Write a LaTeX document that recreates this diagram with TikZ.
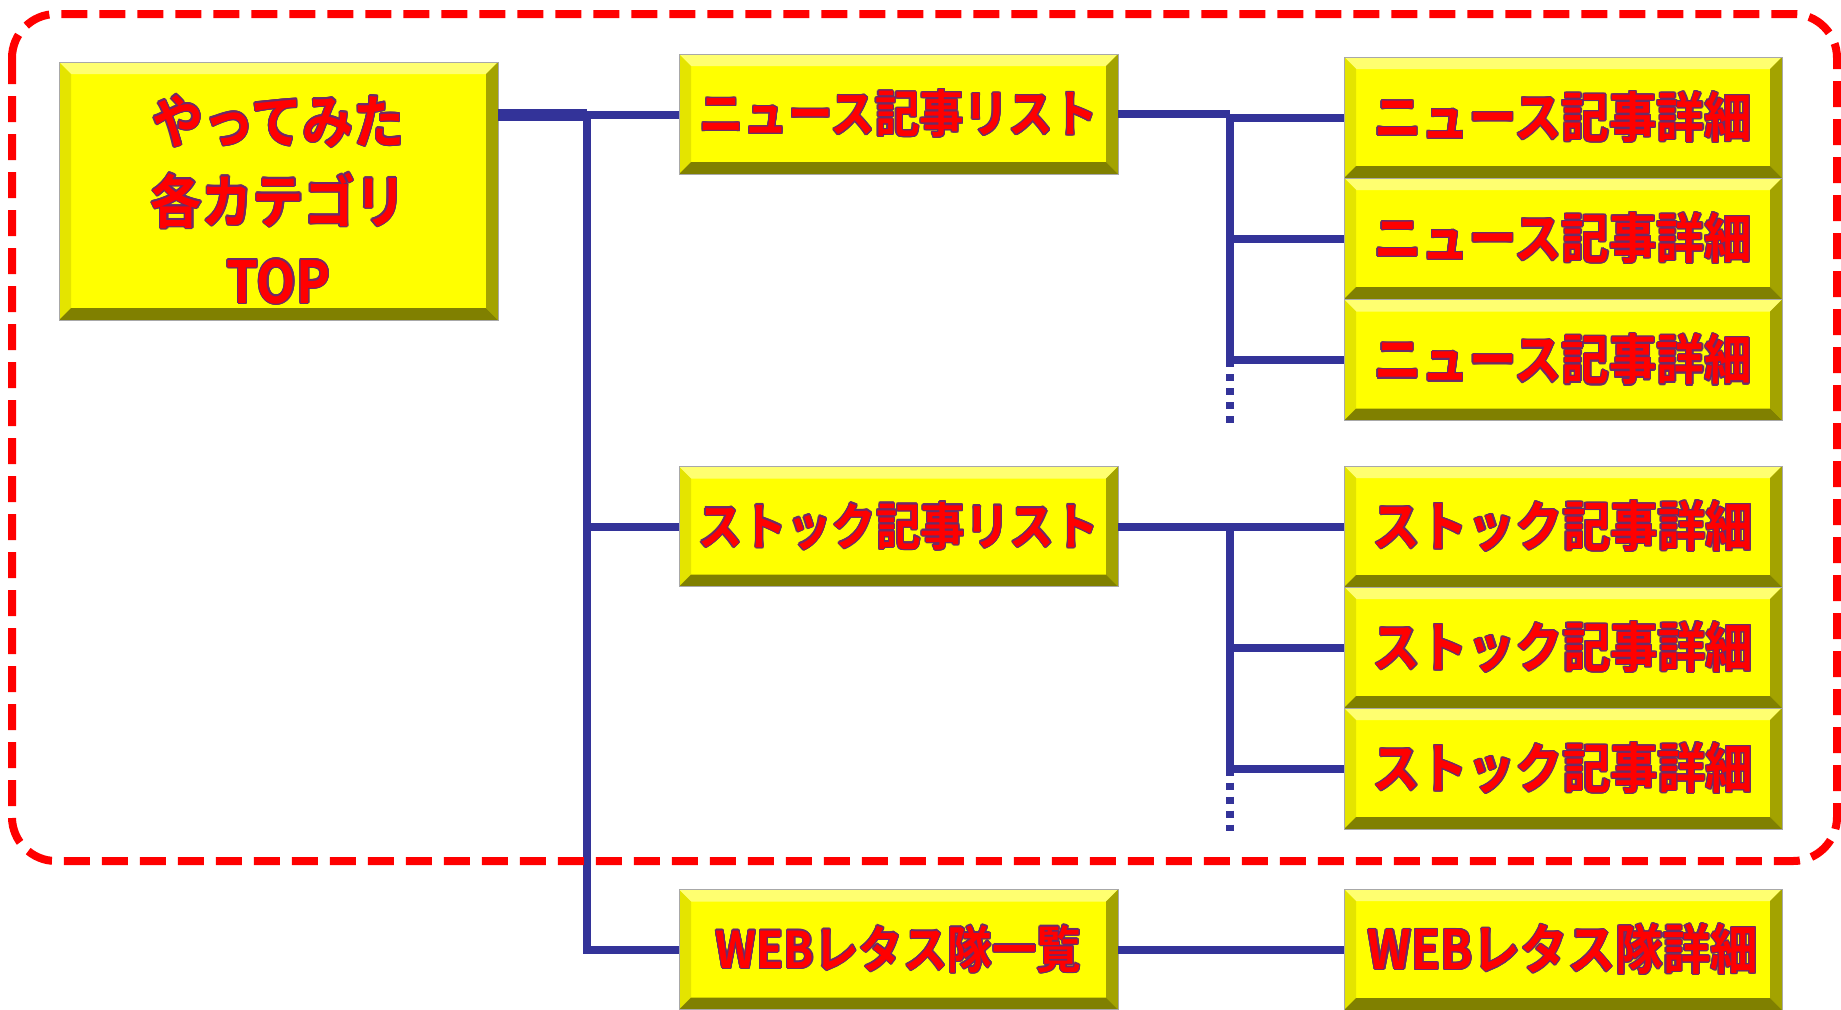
\documentclass[tikz,border=0pt]{standalone}
\usepackage{fontspec}
\newfontfamily\jpfont{Noto Sans CJK JP}[BoldFont=* Bold, FakeStretch=0.88]
\usepackage{contour}
\contourlength{0.6pt}
\usepackage{tikz}
\usetikzlibrary{positioning}
\definecolor{boxyellow}{HTML}{FFFF00}
\definecolor{bevtop}{HTML}{FFFF70}
\definecolor{bevleft}{HTML}{E4E400}
\definecolor{bevright}{HTML}{A3A300}
\definecolor{bevbottom}{HTML}{808000}
\definecolor{boxedge}{HTML}{A8A8A8}
\definecolor{linkblue}{HTML}{333399}
\definecolor{textedge}{HTML}{6A2C6A}
\newcommand{\lbl}[1]{\contour{textedge}{#1}}
\tikzstyle{bevel} = [fill=boxyellow, draw=boxedge, line width=0.5pt, outer sep=0pt, text=red,
                     path picture={
                       \coordinate (bbnw) at (path picture bounding box.north west);
                       \coordinate (bbne) at (path picture bounding box.north east);
                       \coordinate (bbsw) at (path picture bounding box.south west);
                       \coordinate (bbse) at (path picture bounding box.south east);
                       \fill[bevtop] (bbnw) -- (bbne) -- ([shift={(-6pt,-6pt)}]bbne) -- ([shift={(6pt,-6pt)}]bbnw) -- cycle;
                       \fill[bevleft] (bbnw) -- ([shift={(6pt,-6pt)}]bbnw) -- ([shift={(6pt,6pt)}]bbsw) -- (bbsw) -- cycle;
                       \fill[bevright] (bbne) -- (bbse) -- ([shift={(-6pt,6pt)}]bbse) -- ([shift={(-6pt,-6pt)}]bbne) -- cycle;
                       \fill[bevbottom] (bbsw) -- ([shift={(6pt,6pt)}]bbsw) -- ([shift={(-6pt,6pt)}]bbse) -- (bbse) -- cycle;
                     }]
\tikzstyle{topbox} = [bevel, minimum width=219.5pt, minimum height=129pt, align=center,
                      font={\jpfont\bfseries\fontsize{29}{33}\selectfont}]
\tikzstyle{listbox} = [bevel, minimum width=219.5pt, minimum height=60pt,
                       font={\jpfont\bfseries\fontsize{25.3}{28}\selectfont}]
\tikzstyle{detailbox} = [bevel, minimum width=219pt, minimum height=60.5pt,
                         font={\jpfont\bfseries\fontsize{27}{30}\selectfont}]
\tikzstyle{link} = [draw=linkblue, line width=4pt]
\tikzstyle{more} = [draw=linkblue, line width=4pt, dash pattern=on 3.5pt off 3.5pt]
\tikzstyle{frame} = [draw=red, line width=4pt, dash pattern=on 13pt off 6pt, rounded corners=22pt]

\begin{document}
\begin{tikzpicture}[x=0.5pt, y=-0.5pt]
  \useasboundingbox (0,0) rectangle (1841,1009);

  \node (Top) [topbox] at (278.5, 191) {\rule{0pt}{33pt}\lbl{やってみた}\\[7pt]\lbl{各カテゴリ}\\[7pt]\lbl{TOP}};

  % lists
  \node (NewsList) [listbox] at (898.5, 114) {\lbl{ニュース記事リスト}};
  \node (StockList) [listbox] at (898.5, 526.5) {\lbl{ストック記事リスト}};
  \node (WebList) [listbox] at (898.5, 949.5) {\lbl{WEBレタス隊一覧}};

  % news details
  \node (NewsA) [detailbox] at (1563, 117.5) {\lbl{ニュース記事詳細}};
  \node (NewsB) [detailbox] at (1563, 238.5) {\lbl{ニュース記事詳細}};
  \node (NewsC) [detailbox] at (1563, 360) {\lbl{ニュース記事詳細}};

  % stock details
  \node (StockA) [detailbox] at (1563, 526.5) {\lbl{ストック記事詳細}};
  \node (StockB) [detailbox] at (1563, 647.5) {\lbl{ストック記事詳細}};
  \node (StockC) [detailbox] at (1563, 768.5) {\lbl{ストック記事詳細}};

  \node (WebDetail) [detailbox] at (1563, 949.5) {\lbl{WEBレタス隊詳細}};

  % trunk
  \coordinate (Trunk) at (587, 115);
  \draw [link, line width=6pt] (Top.east |- Trunk) -- (Trunk);
  \draw [link] (Trunk) -- (NewsList.west |- Trunk);
  \draw [link] (Trunk |- StockList.west) -- (StockList.west);
  \draw [link] (Trunk) |- (WebList.west);

  % news branch
  \coordinate (NewsJoint) at (1230, 117);
  \coordinate (NewsEnd) at (1230, 429);
  \draw [link] (NewsList.east) -- (NewsJoint |- NewsList.east);
  \draw [link] (NewsJoint |- NewsList.east) |- (NewsC.west);
  \foreach \d in {NewsA, NewsB}
    \draw [link] (NewsJoint |- \d.west) -- (\d.west);
  \draw [more] (NewsJoint |- NewsC.west) -- (NewsEnd);

  % stock branch
  \coordinate (StockJoint) at (1230, 526.5);
  \coordinate (StockEnd) at (1230, 831);
  \draw [link] (StockList.east) -- (StockJoint);
  \draw [link] (StockJoint) |- (StockC.west);
  \foreach \d in {StockA, StockB}
    \draw [link] (StockJoint |- \d.west) -- (\d.west);
  \draw [more] (StockJoint |- StockC.west) -- (StockEnd);

  % web
  \draw [link] (WebList.east) -- (WebDetail.west);

  \draw [frame] (12, 14) rectangle (1837, 861);
\end{tikzpicture}
\end{document}
